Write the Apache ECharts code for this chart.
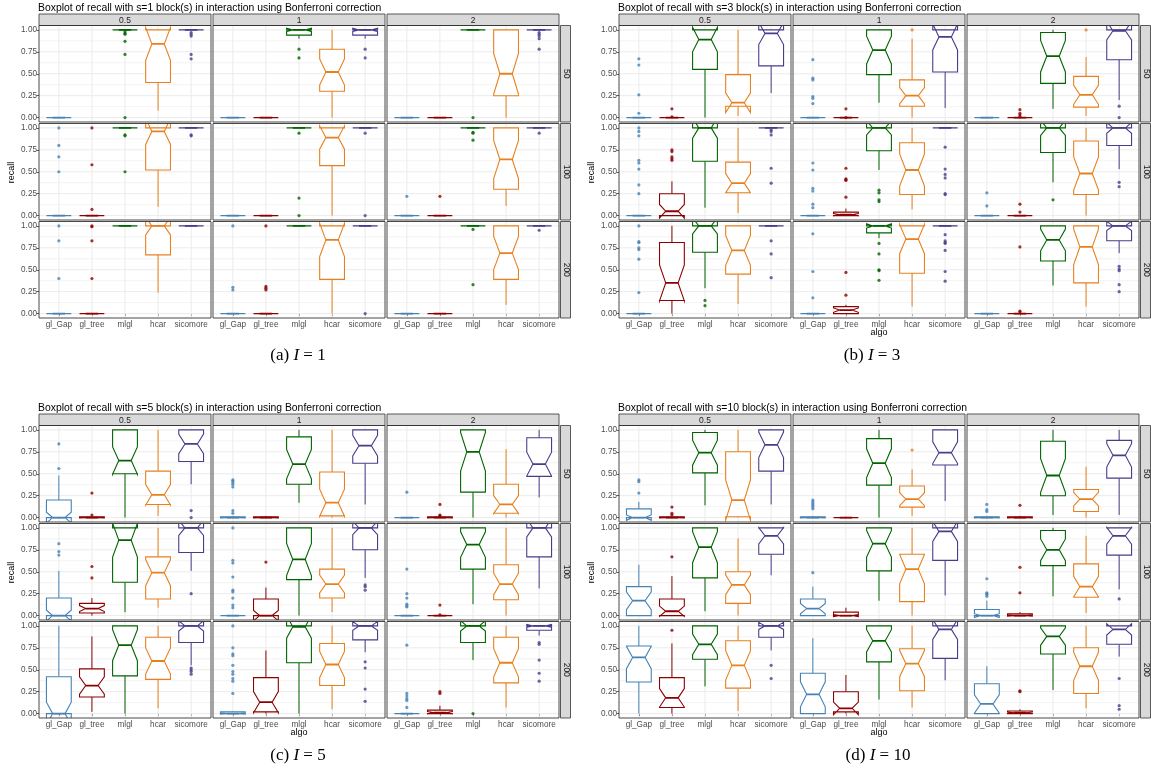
<!DOCTYPE html>
<html><head><meta charset="utf-8">
<script src="https://cdn.jsdelivr.net/npm/echarts@6/dist/echarts.min.js"></script>
<style>html,body{margin:0;padding:0;background:#fff}#c{width:1151px;height:777px}</style>
</head><body><div id="c"></div>
<script>
// ---------------- DATA ----------------
const algos = ['gl_Gap', 'gl_tree', 'mlgl', 'hcar', 'sicomore'];
const lambdas = ['0.5', '1', '2'];
const sizes = ['50', '100', '200'];
const blocks = [1, 3, 5, 10];
const captionLetters = ['(a)', '(b)', '(c)', '(d)'];
const yTicks = [0, 0.25, 0.5, 0.75, 1];
const yMinor = [0.125, 0.375, 0.625, 0.875];
// facets ordered: n=50 (λ 0.5, 1, 2), n=100 (...), n=200 (...)
// each algo: [lowerWhisker, Q1, median, Q3, upperWhisker]
const statsS1 = [
  [[0,0,0,0,0], null, [1,1,1,1,1], [0.08,0.40,0.84,1,1], [1,1,1,1,1]],
  [[0,0,0,0,0], [0,0,0,0,0], [0.90,0.94,1,1,1], [0,0.30,0.52,0.78,1], [0.90,0.94,1,1,1]],
  [[0,0,0,0,0], [0,0,0,0,0], [1,1,1,1,1], [0,0.25,0.50,1,1], [1,1,1,1,1]],
  [[0,0,0,0,0], [0,0,0,0,0], [1,1,1,1,1], [0.10,0.52,0.96,1,1], [1,1,1,1,1]],
  [[0,0,0,0,0], [0,0,0,0,0], [1,1,1,1,1], [0,0.57,0.89,1,1], [1,1,1,1,1]],
  [[0,0,0,0,0], [0,0,0,0,0], [1,1,1,1,1], [0.11,0.30,0.64,1,1], [1,1,1,1,1]],
  [[0,0,0,0,0], [0,0,0,0,0], [1,1,1,1,1], [0.24,0.67,1,1,1], [1,1,1,1,1]],
  [[0,0,0,0,0], [0,0,0,0,0], [1,1,1,1,1], [0,0.39,0.84,1,1], [1,1,1,1,1]],
  [[0,0,0,0,0], [0,0,0,0,0], [1,1,1,1,1], [0.10,0.39,0.69,1,1], [1,1,1,1,1]]
];
const outS1 = [
  [[], [], [0.98,0.96,0.95,0.87,0.72,0], [], [0.97,0.95,0.93,0.72,0.67]],
  [[], [], [0.78,0.68], [], [0.78,0.68]],
  [[], [], [0], [], [0.97,0.95,0.93,0.90,0.78]],
  [[1,0.80,0.67,0.50], [1,0.58,0.07], [0.92,0.91,0.50], [], [0.92,0.91]],
  [[], [], [0.94,0.20,0], [], [0.94,0]],
  [[0.22], [0.22], [0.95,0.94,0.86], [], [0.94]],
  [[1,0.83,0.40], [1,0.99,0.83,0.40], [], [], []],
  [[1,0.30,0.27], [1,0.31,0.29,0.27], [], [], [0]],
  [[], [], [0.96,0.33], [], [0.95]]
];
const statsS3 = [
  [[0,0,0,0,0], [0,0,0,0,0], [0,0.55,0.89,1,1], [0.02,0.13,0.17,0.49,1], [0.28,0.59,0.96,1,1]],
  [[0,0,0,0,0], [0,0,0,0,0], [0.17,0.49,0.77,1,1], [0,0.13,0.25,0.43,0.90], [0.11,0.52,0.92,1,1]],
  [[0,0,0,0,0], [0,0,0,0,0], [0.10,0.39,0.70,0.97,1], [0.02,0.12,0.26,0.47,0.69], [0.20,0.66,0.99,1,1]],
  [[0,0,0,0,0], [0,0,0.05,0.25,0.39], [0.09,0.62,1,1,1], [0.03,0.26,0.37,0.61,1], [1,1,1,1,1]],
  [[0,0,0,0,0], [0,0,0.01,0.04,0.08], [0.52,0.74,1,1,1], [0.07,0.24,0.52,0.83,1], [1,1,1,1,1]],
  [[0,0,0,0,0], [0,0,0,0,0], [0.38,0.72,1,1,1], [0,0.24,0.48,0.85,1], [0.53,0.80,1,1,1]],
  [[0,0,0,0,0], [0,0.15,0.35,0.81,1], [0.29,0.70,1,1,1], [0.11,0.45,0.72,1,1], [1,1,1,1,1]],
  [[0,0,0,0,0], [0,0,0.04,0.08,0.10], [0.86,0.92,1,1,1], [0.08,0.46,0.85,1,1], [1,1,1,1,1]],
  [[0,0,0,0,0], [0,0,0,0,0], [0.32,0.60,0.84,1,1], [0.08,0.35,0.76,1,1], [0.69,0.83,1,1,1]]
];
const outS3 = [
  [[0.67,0.60,0.26,0.05], [0.10,0.01], [], [], []],
  [[0.66,0.45,0.43,0.24,0.22,0.16], [0.10,0], [], [1], []],
  [[], [0.09,0.05,0.03,0.01], [], [1], [0.13,0]],
  [[1,0.96,0.91,0.63,0.60,0.53,0.35,0.25], [0.75,0.73,0.67,0.65,0.63], [], [], [0.98,0.96,0.92,0.54,0.37]],
  [[0.60,0.52,0.31,0.28,0.13,0.09], [0.54,0.42,0.41,0.40,0.21], [0.29,0.26,0.18,0.16], [], [0.78,0.53,0.47,0.43,0.25,0.24]],
  [[0.26,0.11], [0.13,0.04], [0.18], [], [0.38,0.33]],
  [[1,0.82,0.81,0.75,0.73,0.62,0.24], [], [0.15,0.09], [], [0.83,0.68,0.41]],
  [[0.91,0.48,0.18], [0.47,0.21], [0.80,0.68,0.50,0.49,0.38], [], [0.90,0.83,0.81,0.80,0.72,0.48,0.37]],
  [[], [0.76,0.03,0.02], [], [], [0.54,0.51,0.49,0.33,0.25]]
];
const statsS5 = [
  [[0,0,0,0.20,0.48], [0,0,0,0.01,0.02], [0,0.50,0.65,1,1], [0.02,0.15,0.26,0.53,1], [0.38,0.64,0.84,1,1]],
  [[0,0,0,0.01,0.02], [0,0,0,0.01,0.02], [0.17,0.38,0.61,0.92,1], [0,0.02,0.17,0.52,1], [0.15,0.62,0.82,1,1]],
  [[0,0,0,0,0], [0,0,0,0.01,0.02], [0,0.29,0.75,1,1], [0,0.05,0.15,0.38,0.78], [0.23,0.47,0.61,0.91,1]],
  [[0,0,0,0.20,0.51], [0,0.03,0.08,0.14,0.20], [0.04,0.38,0.86,1,1], [0.09,0.19,0.49,0.67,1], [0.51,0.72,1,1,1]],
  [[0,0,0,0,0], [0,0,0,0.19,0.32], [0,0.41,0.64,1,1], [0.04,0.20,0.36,0.53,1], [0.43,0.75,1,1,1]],
  [[0,0,0,0,0], [0,0,0,0,0], [0.13,0.53,0.81,1,1], [0,0.18,0.36,0.58,1], [0.31,0.67,1,1,1]],
  [[0,0,0,0.42,1], [0.02,0.19,0.32,0.51,0.88], [0,0.43,0.78,1,1], [0.06,0.39,0.60,0.87,1], [0.55,0.81,1,1,1]],
  [[0,0,0,0.02,0.03], [0,0.02,0.13,0.41,0.72], [0,0.58,0.99,1,1], [0.05,0.32,0.56,0.80,1], [0.70,0.84,1,1,1]],
  [[0,0,0,0,0], [0,0,0.01,0.04,0.09], [0.61,0.81,1,1,1], [0.07,0.35,0.58,0.87,1], [0.89,0.95,1,1,1]]
];
const outS5 = [
  [[0.84,0.56], [0.28,0.03], [], [], [0.08,0]],
  [[0.43,0.42,0.40,0.38,0.35,0.08,0.05], [], [], [], []],
  [[0.29], [0.15,0.03,0.02], [], [], []],
  [[0.82,0.73,0.69], [0.56,0.43], [], [], [0.25]],
  [[1,0.63,0.60,0.44,0.29,0.27,0.20,0.12,0.09], [0.61], [], [], [0.35,0.33,0.29]],
  [[0.53,0.25,0.20,0.13,0.11,0.10], [0.12,0.01], [], [], []],
  [[], [], [], [], [0.52,0.50,0.48,0.45]],
  [[1,0.75,0.68,0.66,0.55,0.48,0.45,0.40,0.37,0.23], [], [], [], [0.59,0.52,0.28,0.14]],
  [[0.78,0.23,0.20,0.17,0.15,0.07], [0.25,0.23], [0], [], [0.81,0.79,0.61,0.46,0.37]]
];
const statsS10 = [
  [[0,0,0,0.10,0.18], [0,0,0,0.01,0.02], [0.14,0.51,0.74,0.97,1], [0,0.01,0.20,0.75,1], [0.15,0.53,0.83,1,1]],
  [[0,0,0,0.01,0.02], [0,0,0,0,0.01], [0,0.37,0.62,0.90,1], [0.02,0.12,0.21,0.36,0.55], [0.19,0.60,0.74,1,1]],
  [[0,0,0,0.01,0.02], [0,0,0,0.01,0.02], [0.03,0.25,0.48,0.87,1], [0,0.07,0.21,0.32,0.58], [0.03,0.45,0.71,0.88,1]],
  [[0,0,0.17,0.33,0.58], [0,0,0.05,0.19,0.45], [0.05,0.43,0.78,1,1], [0,0.14,0.35,0.50,0.88], [0.46,0.70,0.91,1,1]],
  [[0,0,0.08,0.19,0.33], [0,0,0,0.04,0.09], [0.17,0.51,0.82,1,1], [0,0.16,0.53,0.70,1], [0.23,0.63,0.96,1,1]],
  [[0,0,0,0.07,0.17], [0,0,0,0.02,0.04], [0.22,0.57,0.75,0.97,1], [0.03,0.21,0.33,0.59,0.91], [0.30,0.69,0.91,1,1]],
  [[0,0.36,0.64,0.77,1], [0,0.07,0.18,0.41,0.80], [0.31,0.62,0.79,1,1], [0.03,0.29,0.55,0.83,1], [0.72,0.87,1,1,1]],
  [[0,0,0.22,0.46,0.86], [0,0.02,0.06,0.25,0.44], [0.16,0.59,0.83,1,1], [0.07,0.26,0.57,0.74,1], [0.38,0.63,0.96,1,1]],
  [[0,0,0.11,0.34,0.54], [0,0,0.01,0.03,0.05], [0.27,0.68,0.88,1,1], [0.06,0.23,0.54,0.75,1], [0.65,0.79,0.96,1,1]]
];
const outS10 = [
  [[0.43,0.41,0.28], [0.12,0.05,0.03], [], [], []],
  [[0.20,0.18,0.16,0.14,0.12,0.10], [], [], [0.77], []],
  [[0.15,0.09,0.07], [0.14], [], [], []],
  [[], [0.67], [], [], []],
  [[0.49], [], [], [], []],
  [[0.42,0.26,0.25,0.24,0.22], [0.55,0.26], [], [], [0.19]],
  [[], [0.95], [], [], [0.55,0.40]],
  [[], [], [], [], []],
  [[], [0.26,0.25], [], [], [0.40,0.09,0.05]]
];

// ---------------- STYLE / LAYOUT ----------------
const FONT = '"Liberation Sans", Arial, Helvetica, sans-serif';
const SERIF = '"Liberation Serif", "DejaVu Serif", serif';
const colors = ['#4682B4', '#8B0000', '#006400', '#E8801E', '#483D8B'];
const NOTCH_N = 26; // sample size used for ggplot notch: median ± 1.58*IQR/sqrt(n)
const panelPos = [
  { left: 39, top: 14, algo: false, capX: 298, capY: 356 },
  { left: 619, top: 14, algo: true, capX: 872, capY: 356 },
  { left: 39, top: 414, algo: true, capX: 298, capY: 756 },
  { left: 619, top: 414, algo: true, capX: 878, capY: 756 }
];
const allStats = [statsS1, statsS3, statsS5, statsS10];
const allOuts = [outS1, outS3, outS5, outS10];
const stripH = 11.5, facetW = 172, gapX = 2, facetH = 96.5, pitchY = 98, rStripW = 10;

function renderGrid(params, api) {
  const cs = params.coordSys;
  const ch = [];
  const ln = (x1, y1, x2, y2, w) => ({ type: 'line', shape: { x1, y1, x2, y2 }, style: { stroke: '#EBEBEB', lineWidth: w } });
  yMinor.forEach(v => { const y = api.coord([1, v])[1]; ch.push(ln(cs.x, y, cs.x + cs.width, y, 0.6)); });
  yTicks.forEach(v => { const y = api.coord([1, v])[1]; ch.push(ln(cs.x, y, cs.x + cs.width, y, 1)); });
  algos.forEach((a, k) => { const x = api.coord([k + 1, 0])[0]; ch.push(ln(x, cs.y, x, cs.y + cs.height, 1)); });
  return { type: 'group', children: ch };
}

function renderBox(params, api) {
  const k = api.value(0);
  const lo = api.value(1), q1 = api.value(2), med = api.value(3), q3 = api.value(4), hi = api.value(5);
  const col = colors[k - 1];
  const hw = 0.375, ind = hw / 2;
  const nt = 1.58 * (q3 - q1) / Math.sqrt(NOTCH_N);
  const c = (x, y) => api.coord([x, y]);
  const pts = [c(k - hw, q3), c(k - hw, med + nt), c(k - ind, med), c(k - hw, med - nt), c(k - hw, q1),
               c(k + hw, q1), c(k + hw, med - nt), c(k + ind, med), c(k + hw, med + nt), c(k + hw, q3)];
  const xc = c(k, 0)[0];
  const m1 = c(k - ind, med), m2 = c(k + ind, med);
  return { type: 'group', children: [
    { type: 'line', shape: { x1: xc, y1: c(k, q3)[1], x2: xc, y2: c(k, hi)[1] }, style: { stroke: col, lineWidth: 1 } },
    { type: 'line', shape: { x1: xc, y1: c(k, q1)[1], x2: xc, y2: c(k, lo)[1] }, style: { stroke: col, lineWidth: 1 } },
    { type: 'polygon', shape: { points: pts }, style: { fill: '#fff', stroke: col, lineWidth: 1.1, lineJoin: 'miter' } },
    { type: 'line', shape: { x1: m1[0], y1: m1[1], x2: m2[0], y2: m2[1] }, style: { stroke: col, lineWidth: 1.8 } }
  ] };
}

const grids = [], xAxes = [], yAxes = [], series = [], graphics = [];
const txt = (x, y, text, size, fill, align, valign, extra) => Object.assign({
  type: 'text', x, y, z: 120, silent: true,
  style: { text, fill, font: size + 'px ' + FONT, textAlign: align, align, textVerticalAlign: valign, verticalAlign: valign }
}, extra || {});

panelPos.forEach((P, pi) => {
  const L = P.left, T = P.top;
  const totalW = 3 * facetW + 2 * gapX;
  // title
  graphics.push(txt(L - 1, T - 6, 'Boxplot of recall with s=' + blocks[pi] + ' block(s) in interaction using Bonferroni correction', 10.4, '#000', 'left', 'middle'));
  // y title
  graphics.push(txt(L - 27, T + stripH + 1.5 * pitchY, 'recall', 9, '#000', 'center', 'middle', { rotation: Math.PI / 2 }));
  if (P.algo) graphics.push(txt(L + totalW / 2, T + 319, 'algo', 9, '#000', 'center', 'middle'));
  // caption
  graphics.push({ type: 'text', x: P.capX, y: P.capY, z: 120, silent: true,
    style: { text: '{n|' + captionLetters[pi] + ' }{i|I}{n| = ' + blocks[pi] + '}', textAlign: 'center', align: 'center', textVerticalAlign: 'middle', verticalAlign: 'middle',
      rich: { n: { fontFamily: SERIF, fontSize: 17, fill: '#000', color: '#000' }, i: { fontFamily: SERIF, fontSize: 17, fontStyle: 'italic', fill: '#000', color: '#000' } } } });
  // top strips
  lambdas.forEach((lam, c) => {
    const x = L + c * (facetW + gapX);
    graphics.push({ type: 'rect', z: 110, silent: true, shape: { x, y: T, width: facetW, height: stripH }, style: { fill: '#D9D9D9', stroke: '#333', lineWidth: 0.8 } });
    graphics.push(txt(x + facetW / 2, T + stripH / 2 + 0.5, lam, 8.5, '#1A1A1A', 'center', 'middle'));
  });
  sizes.forEach((sz, r) => {
    const y = T + stripH + r * pitchY;
    const x = L + totalW + 1.5;
    graphics.push({ type: 'rect', z: 110, silent: true, shape: { x, y, width: rStripW, height: facetH }, style: { fill: '#D9D9D9', stroke: '#333', lineWidth: 0.8 } });
    graphics.push(txt(x + rStripW / 2 + 0.5, y + facetH / 2, sz, 8.5, '#1A1A1A', 'center', 'middle', { rotation: -Math.PI / 2 }));
  });
  const stats = allStats[pi], outs = allOuts[pi];
  for (let r = 0; r < 3; r++) {
    for (let c = 0; c < 3; c++) {
      const fi = r * 3 + c;
      const gi = grids.length;
      const gx = L + c * (facetW + gapX), gy = T + stripH + r * pitchY;
      grids.push({ left: gx, top: gy, width: facetW, height: facetH, show: true, backgroundColor: '#fff', borderWidth: 0 });
      graphics.push({ type: 'rect', z: 110, silent: true, shape: { x: gx, y: gy, width: facetW, height: facetH }, style: { fill: 'none', stroke: '#333', lineWidth: 0.9 } });
      xAxes.push({ gridIndex: gi, type: 'value', min: 0.4, max: 5.6,
        axisLine: { show: false }, splitLine: { show: false },
        axisTick: { show: r === 2, customValues: [1, 2, 3, 4, 5], length: 2.5, lineStyle: { color: '#333', width: 0.8 } },
        axisLabel: { show: r === 2, customValues: [1, 2, 3, 4, 5], formatter: v => algos[Math.round(v) - 1], fontSize: 8.2, color: '#4D4D4D', margin: 3, fontFamily: FONT } });
      yAxes.push({ gridIndex: gi, type: 'value', min: -0.05, max: 1.05,
        axisLine: { show: false }, splitLine: { show: false },
        axisTick: { show: c === 0, customValues: yTicks, length: 2.5, lineStyle: { color: '#333', width: 0.8 } },
        axisLabel: { show: c === 0, customValues: yTicks, formatter: v => v.toFixed(2), fontSize: 8.2, color: '#4D4D4D', margin: 2, fontFamily: FONT } });
      series.push({ type: 'custom', xAxisIndex: gi, yAxisIndex: gi, z: 1, silent: true, clip: true, data: [[1, 0]], renderItem: renderGrid });
      const boxData = [];
      stats[fi].forEach((s, k) => { if (s) boxData.push([k + 1].concat(s)); });
      series.push({ type: 'custom', xAxisIndex: gi, yAxisIndex: gi, z: 2, silent: true, clip: true, data: boxData,
        encode: { x: 0, y: [1, 2, 3, 4, 5] }, renderItem: renderBox });
      const pts = [];
      outs[fi].forEach((arr, k) => arr.forEach(v => pts.push({ value: [k + 1, v], itemStyle: { color: colors[k] } })));
      series.push({ type: 'scatter', xAxisIndex: gi, yAxisIndex: gi, z: 3, silent: true, symbol: 'circle', symbolSize: 3.2, data: pts, clip: false });
    }
  }
});

const chart = echarts.init(document.getElementById('c'), null, { renderer: 'canvas' });
chart.setOption({
  animation: false,
  backgroundColor: '#fff',
  textStyle: { fontFamily: FONT },
  grid: grids, xAxis: xAxes, yAxis: yAxes, series: series,
  graphic: { elements: graphics }
});
</script></body></html>
